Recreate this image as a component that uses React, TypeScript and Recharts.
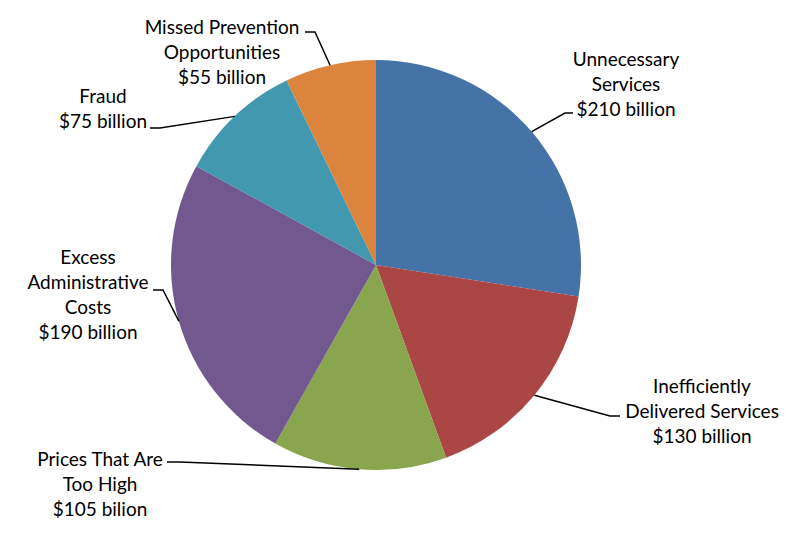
import { PieChart, Pie, Cell } from "recharts";

const categories = [
    "Unnecessary Services",
    "Inefficiently Delivered Services",
    "Prices That Are Too High",
    "Excess Administrative Costs",
    "Fraud",
    "Missed Prevention Opportunities",
];
const values = [210, 130, 105, 190, 75, 55];
const labelLines = [
    ["Unnecessary", "Services", "$210 billion"],
    ["Inefficiently", "Delivered Services", "$130 billion"],
    ["Prices That Are", "Too High", "$105 bilion"],
    ["Excess", "Administrative", "Costs", "$190 billion"],
    ["Fraud", "$75 billion"],
    ["Missed Prevention", "Opportunities", "$55 billion"],
];
const colors = ["#4572A7", "#AA4643", "#89A54E", "#71588F", "#4198AF", "#DB843D"];

// label placement: text centre x, first baseline, elbow + end of leader
const layout = [
    { x: 626, y: 66, elbow: [565, 113], end: [573, 113] },
    { x: 702, y: 393, elbow: [610, 416], end: [620, 416] },
    { x: 100, y: 466, elbow: [180, 462], end: [167, 462] },
    { x: 88, y: 264, elbow: [163, 290], end: [153, 290] },
    { x: 103, y: 103, elbow: [160, 128], end: [150, 128] },
    { x: 222, y: 34, elbow: [315, 32], end: [305, 32] },
];

const data = categories.map((name, i) => ({ name, value: values[i] }));
const RAD = Math.PI / 180;

const renderLabel = (props: any) => {
    const { cx, cy, midAngle, outerRadius, index } = props;
    const sx = cx + outerRadius * Math.cos(-midAngle * RAD);
    const sy = cy + outerRadius * Math.sin(-midAngle * RAD);
    const l = layout[index];
    return (
        <g key={`lbl-${index}`}>
            <polyline
                points={`${sx},${sy} ${l.elbow[0]},${l.elbow[1]} ${l.end[0]},${l.end[1]}`}
                fill="none"
                stroke="#000"
                strokeWidth={1.5}
            />
            <text x={l.x} y={l.y} textAnchor="middle" fill="#000" fontFamily="Lato" fontSize={19}>
                {labelLines[index].map((t, j) => (
                    <tspan key={j} x={l.x} y={l.y + j * 25}>{t}</tspan>
                ))}
            </text>
        </g>
    );
};

export default function App() {
    return (
        <div style={{ position: "absolute", left: 0, top: 0, background: "#fff" }}>
            <PieChart width={806} height={544} margin={{ top: 0, right: 0, bottom: 0, left: 0 }}>
                <Pie
                    data={data}
                    dataKey="value"
                    nameKey="name"
                    cx={376}
                    cy={265}
                    outerRadius={205}
                    startAngle={90}
                    endAngle={-270}
                    stroke="none"
                    label={renderLabel}
                    labelLine={false}
                    isAnimationActive={false}
                >
                    {data.map((d, i) => (
                        <Cell key={d.name} fill={colors[i]} />
                    ))}
                </Pie>
            </PieChart>
        </div>
    );
}
